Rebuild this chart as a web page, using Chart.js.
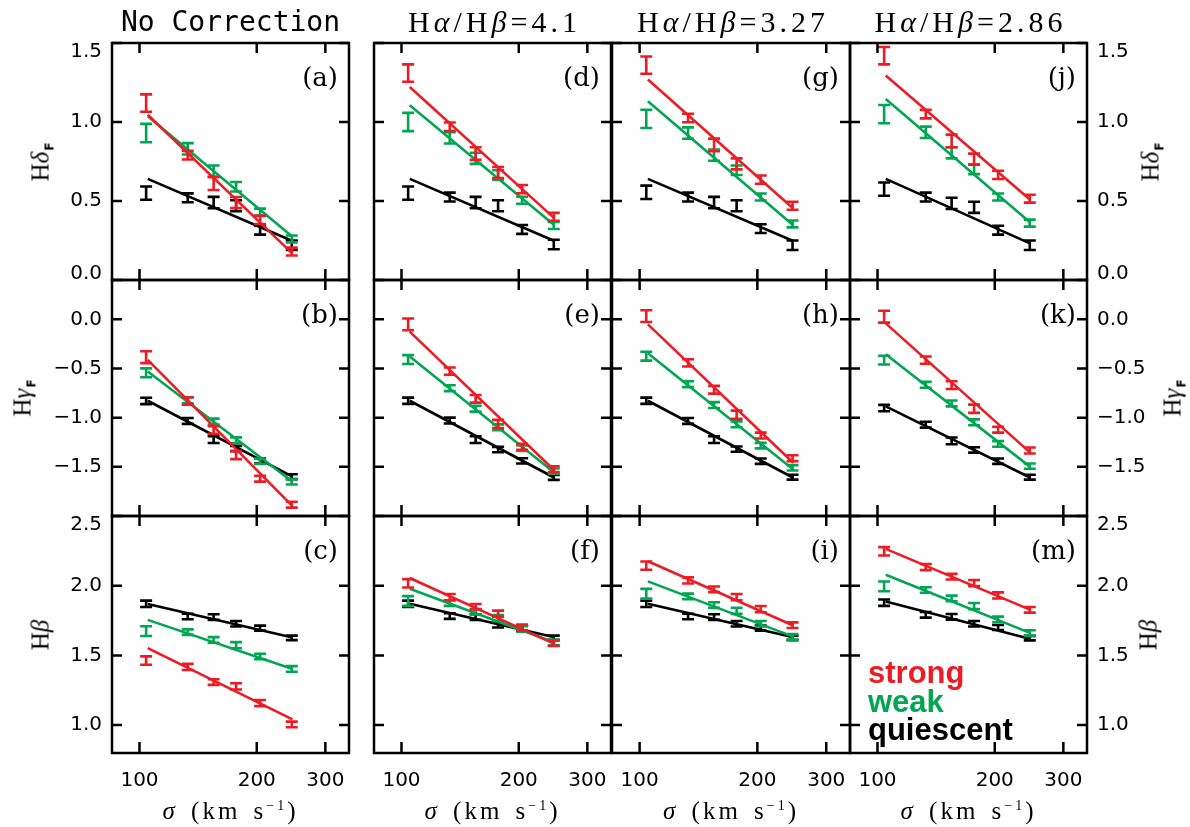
<!DOCTYPE html>
<html><head><meta charset="utf-8">
<script src="https://cdn.jsdelivr.net/npm/chart.js@4.4.1/dist/chart.umd.min.js"></script>
<style>
html,body{margin:0;padding:0;background:#fff;}
#fig{position:relative;width:1190px;height:827px;overflow:hidden;background:#fff;}
#fig canvas{position:absolute;z-index:1;}
.t{position:absolute;white-space:nowrap;color:#000;line-height:1;z-index:2;}
</style></head><body><div id="fig"></div>
<script>
// ---------------- data ----------------
const sigma = [104, 133, 155, 177, 204, 246];          // km/s, bin centres
const fitSigma = [105, 247];                            // extent of fitted lines
const xTickValues = [100, 200, 300];
const hdTicks = [0.0, 0.5, 1.0, 1.5];
const hgTicks = [-1.5, -1.0, -0.5, 0.0];
const hbTicks = [1.0, 1.5, 2.0, 2.5];
const panelLetters = ['a','b','c','d','e','f','g','h','i','j','k','m'];
const legendLabels = ['strong', 'weak', 'quiescent'];

// H delta_F
const hd_none_strong    = [1.12, 0.79, 0.61, 0.49, 0.38, 0.18];
const hd_none_weak      = [0.93, 0.83, 0.69, 0.59, 0.43, 0.26];
const hd_none_quiescent = [0.55, 0.52, 0.49, 0.47, 0.315, 0.22];
const hd_41_strong      = [1.31, 0.97, 0.80, 0.68, 0.575, 0.40];
const hd_41_weak        = [1.00, 0.90, 0.77, 0.665, 0.505, 0.345];
const hd_41_quiescent   = [0.55, 0.525, 0.49, 0.47, 0.32, 0.225];
const hd_327_strong     = [1.36, 1.025, 0.855, 0.735, 0.635, 0.47];
const hd_327_weak       = [1.02, 0.93, 0.79, 0.695, 0.525, 0.355];
const hd_327_quiescent  = [0.555, 0.525, 0.49, 0.47, 0.325, 0.22];
const hd_286_strong     = [1.42, 1.05, 0.88, 0.765, 0.665, 0.515];
const hd_286_weak       = [1.05, 0.935, 0.805, 0.70, 0.525, 0.36];
const hd_286_quiescent  = [0.575, 0.525, 0.485, 0.46, 0.315, 0.22];
const hdErr_strong      = [0.055, 0.027, 0.04, 0.035, 0.026, 0.025];
const hdErr_weak        = [0.058, 0.036, 0.035, 0.03, 0.022, 0.022];
const hdErr_quiescent   = [0.042, 0.028, 0.036, 0.035, 0.028, 0.03];
const hdFit_none_strong = [1.046, 0.167], hdFit_none_weak = [1.036, 0.273], hdFit_none_quiescent = [0.64, 0.247];
const hdFit_41_strong   = [1.222, 0.39],  hdFit_41_weak   = [1.106, 0.347], hdFit_41_quiescent   = [0.64, 0.247];
const hdFit_327_strong  = [1.269, 0.453], hdFit_327_weak  = [1.131, 0.347], hdFit_327_quiescent  = [0.64, 0.247];
const hdFit_286_strong  = [1.294, 0.506], hdFit_286_weak  = [1.146, 0.362], hdFit_286_quiescent  = [0.64, 0.23];

// H gamma_F
const hg_none_strong    = [-0.385, -0.83, -1.125, -1.38, -1.62, -1.885];
const hg_none_weak      = [-0.544, -0.825, -1.04, -1.23, -1.443, -1.652];
const hg_none_quiescent = [-0.83, -1.033, -1.223, -1.314, -1.44, -1.60];
const hg_41_strong      = [-0.051, -0.527, -0.808, -1.064, -1.297, -1.524];
const hg_41_weak        = [-0.409, -0.70, -0.909, -1.098, -1.31, -1.544];
const hg_41_quiescent   = [-0.828, -1.03, -1.223, -1.324, -1.439, -1.608];
const hg_327_strong     = [0.033, -0.443, -0.716, -0.97, -1.182, -1.412];
const hg_327_weak       = [-0.375, -0.659, -0.872, -1.068, -1.284, -1.51];
const hg_327_quiescent  = [-0.828, -1.033, -1.223, -1.32, -1.443, -1.605];
const hg_286_strong     = [0.027, -0.415, -0.669, -0.909, -1.122, -1.334];
const hg_286_weak       = [-0.415, -0.666, -0.855, -1.047, -1.267, -1.493];
const hg_286_quiescent  = [-0.902, -1.071, -1.236, -1.328, -1.443, -1.605];
const hgErr_strong      = [0.06, 0.037, 0.039, 0.042, 0.03, 0.03];
const hgErr_weak        = [0.045, 0.03, 0.03, 0.03, 0.028, 0.027];
const hgErr_quiescent   = [0.032, 0.03, 0.034, 0.027, 0.027, 0.025];
const hgFit_none_strong = [-0.412, -1.899], hgFit_none_weak = [-0.53, -1.652], hgFit_none_quiescent = [-0.828, -1.60];
const hgFit_41_strong   = [-0.125, -1.537], hgFit_41_weak   = [-0.378, -1.56],  hgFit_41_quiescent   = [-0.828, -1.611];
const hgFit_327_strong  = [-0.051, -1.459], hgFit_327_weak  = [-0.345, -1.527], hgFit_327_quiescent  = [-0.828, -1.611];
const hgFit_286_strong  = [-0.041, -1.358], hgFit_286_weak  = [-0.355, -1.503], hgFit_286_quiescent  = [-0.885, -1.611];

// H beta
const hb_none_strong    = [1.463, 1.417, 1.309, 1.278, 1.158, 1.005];
const hb_none_weak      = [1.674, 1.667, 1.611, 1.573, 1.492, 1.403];
const hb_none_quiescent = [1.87, 1.779, 1.775, 1.727, 1.696, 1.626];
const hb_41_strong      = [2.017, 1.918, 1.849, 1.799, 1.70, 1.588];
const hb_41_weak        = [1.89, 1.875, 1.813, 1.767, 1.69, 1.593];
const hb_41_quiescent   = [1.87, 1.782, 1.775, 1.72, 1.696, 1.626];
const hb_327_strong     = [2.144, 2.038, 1.974, 1.918, 1.832, 1.717];
const hb_327_weak       = [1.942, 1.923, 1.861, 1.82, 1.727, 1.633];
const hb_327_quiescent  = [1.87, 1.779, 1.775, 1.727, 1.696, 1.626];
const hb_286_strong     = [2.247, 2.134, 2.065, 2.019, 1.93, 1.827];
const hb_286_weak       = [1.995, 1.969, 1.909, 1.854, 1.758, 1.66];
const hb_286_quiescent  = [1.878, 1.791, 1.777, 1.727, 1.70, 1.624];
const hbErr_strong      = [0.03, 0.022, 0.02, 0.022, 0.022, 0.02];
const hbErr_weak        = [0.035, 0.02, 0.02, 0.022, 0.02, 0.02];
const hbErr_quiescent   = [0.023, 0.02, 0.02, 0.02, 0.018, 0.016];
const hbFit_none_strong = [1.552, 1.041], hbFit_none_weak = [1.755, 1.403], hbFit_none_quiescent = [1.868, 1.628];
const hbFit_41_strong   = [2.055, 1.583], hbFit_41_weak   = [1.978, 1.592], hbFit_41_quiescent   = [1.87, 1.631];
const hbFit_327_strong  = [2.175, 1.715], hbFit_327_weak  = [2.031, 1.635], hbFit_327_quiescent  = [1.87, 1.631];
const hbFit_286_strong  = [2.264, 1.827], hbFit_286_weak  = [2.079, 1.66],  hbFit_286_quiescent  = [1.887, 1.617];

// ---------------- styling / layout ----------------
const COLORS = {strong: '#ec1c24', weak: '#00a651', quiescent: '#000000'};
const plotLefts = [112, 374, 612, 850];
const plotWidths = [237, 237, 238, 237];
const plotTops = [43, 280, 516];
const plotHeights = [237, 236, 237];
const M = 24;

// labelNudge: pixel shift (down = +) of edge tick labels, as in the original figure
const rowCfg = [
  {min: 0.0, max: 1.5, ticks: hdTicks, labelNudge: [-6, 0, 0, 9], err: [hdErr_strong, hdErr_weak, hdErr_quiescent]},
  {min: -2.0, max: 0.4, ticks: hgTicks, labelNudge: [0, 0, 0, 0], err: [hgErr_strong, hgErr_weak, hgErr_quiescent]},
  {min: 0.8, max: 2.5, ticks: hbTicks, labelNudge: [0, 0, 0, 9], err: [hbErr_strong, hbErr_weak, hbErr_quiescent]}
];

const panels = [
  {col:0,row:0, vals:[hd_none_strong, hd_none_weak, hd_none_quiescent], fits:[hdFit_none_strong, hdFit_none_weak, hdFit_none_quiescent]},
  {col:0,row:1, vals:[hg_none_strong, hg_none_weak, hg_none_quiescent], fits:[hgFit_none_strong, hgFit_none_weak, hgFit_none_quiescent]},
  {col:0,row:2, vals:[hb_none_strong, hb_none_weak, hb_none_quiescent], fits:[hbFit_none_strong, hbFit_none_weak, hbFit_none_quiescent]},
  {col:1,row:0, vals:[hd_41_strong, hd_41_weak, hd_41_quiescent], fits:[hdFit_41_strong, hdFit_41_weak, hdFit_41_quiescent]},
  {col:1,row:1, vals:[hg_41_strong, hg_41_weak, hg_41_quiescent], fits:[hgFit_41_strong, hgFit_41_weak, hgFit_41_quiescent]},
  {col:1,row:2, vals:[hb_41_strong, hb_41_weak, hb_41_quiescent], fits:[hbFit_41_strong, hbFit_41_weak, hbFit_41_quiescent]},
  {col:2,row:0, vals:[hd_327_strong, hd_327_weak, hd_327_quiescent], fits:[hdFit_327_strong, hdFit_327_weak, hdFit_327_quiescent]},
  {col:2,row:1, vals:[hg_327_strong, hg_327_weak, hg_327_quiescent], fits:[hgFit_327_strong, hgFit_327_weak, hgFit_327_quiescent]},
  {col:2,row:2, vals:[hb_327_strong, hb_327_weak, hb_327_quiescent], fits:[hbFit_327_strong, hbFit_327_weak, hbFit_327_quiescent]},
  {col:3,row:0, vals:[hd_286_strong, hd_286_weak, hd_286_quiescent], fits:[hdFit_286_strong, hdFit_286_weak, hdFit_286_quiescent]},
  {col:3,row:1, vals:[hg_286_strong, hg_286_weak, hg_286_quiescent], fits:[hgFit_286_strong, hgFit_286_weak, hgFit_286_quiescent]},
  {col:3,row:2, vals:[hb_286_strong, hb_286_weak, hb_286_quiescent], fits:[hbFit_286_strong, hbFit_286_weak, hbFit_286_quiescent]}
];

// ---------------- plugins ----------------
const errorBarPlugin = {
  id: 'errorBars',
  afterDatasetDraw(chart, args) {
    const ds = chart.data.datasets[args.index];
    if (!ds.errors) return;
    const xs = chart.scales.x, ys = chart.scales.y, ctx = chart.ctx;
    ctx.save();
    ctx.strokeStyle = ds.borderColor;
    ctx.lineWidth = 2.6;
    ctx.lineCap = 'butt';
    ds.data.forEach((p, i) => {
      const px = xs.getPixelForValue(p.x);
      const y1 = ys.getPixelForValue(p.y - ds.errors[i]);
      const y2 = ys.getPixelForValue(p.y + ds.errors[i]);
      ctx.beginPath();
      ctx.moveTo(px, y1); ctx.lineTo(px, y2);
      ctx.moveTo(px - 6, y1); ctx.lineTo(px + 6, y1);
      ctx.moveTo(px - 6, y2); ctx.lineTo(px + 6, y2);
      ctx.stroke();
    });
    ctx.restore();
  }
};
const framePlugin = {
  id: 'frame',
  afterDraw(chart, args, opts) {
    const {ctx, chartArea: a} = chart;
    const xs = chart.scales.x, ys = chart.scales.y;
    ctx.save();
    ctx.strokeStyle = '#000';
    ctx.lineWidth = 2.5;
    ctx.strokeRect(a.left, a.top, a.right - a.left, a.bottom - a.top);
    ctx.beginPath();
    (opts.xTicks || []).forEach(v => {
      const px = xs.getPixelForValue(v);
      ctx.moveTo(px, a.bottom); ctx.lineTo(px, a.bottom - 11);
      ctx.moveTo(px, a.top); ctx.lineTo(px, a.top + 10);
    });
    (opts.yTicks || []).forEach(v => {
      const py = ys.getPixelForValue(v);
      ctx.moveTo(a.left, py); ctx.lineTo(a.left + 10, py);
      ctx.moveTo(a.right, py); ctx.lineTo(a.right - 10, py);
    });
    ctx.stroke();
    ctx.restore();
  }
};

// ---------------- build ----------------
const fig = document.getElementById('fig');
Chart.defaults.font.family = 'DejaVu Sans';
Chart.defaults.color = '#000';

function fmtY(v) { return v.toFixed(1).replace('-', '\u2212'); }

function addText(html, x, y, css, tf) {
  const d = document.createElement('div');
  d.className = 't';
  d.innerHTML = html;
  d.style.left = x + 'px';
  d.style.top = y + 'px';
  Object.assign(d.style, css);
  d.style.transform = tf;
  fig.appendChild(d);
  return d;
}

panels.forEach((p, idx) => {
  const c = p.col, r = p.row, rc = rowCfg[r];
  const padL = c === 0 ? 112 : M, padR = c === 3 ? 100 : M;
  const padT = M, padB = r === 2 ? 48 : M;
  const w = padL + plotWidths[c] + padR, h = padT + plotHeights[r] + padB;
  const cv = document.createElement('canvas');
  cv.width = w; cv.height = h;
  cv.style.width = w + 'px'; cv.style.height = h + 'px';
  cv.style.left = (plotLefts[c] - padL) + 'px';
  cv.style.top = (plotTops[r] - padT) + 'px';
  fig.appendChild(cv);

  const datasets = [];
  legendLabels.forEach((name, si) => {
    datasets.push({
      label: name + ' fit', showLine: true, borderColor: COLORS[name], borderWidth: 2.6,
      pointRadius: 0, pointHoverRadius: 0, fill: false,
      data: fitSigma.map((x, k) => ({x, y: p.fits[si][k]}))
    });
    datasets.push({
      label: name, showLine: false, borderColor: COLORS[name], backgroundColor: COLORS[name],
      pointRadius: 0, pointHoverRadius: 0,
      errors: rc.err[si],
      data: sigma.map((x, k) => ({x, y: p.vals[si][k]}))
    });
  });

  const valPerPx = (rc.max - rc.min) / plotHeights[r];

  new Chart(cv, {
    type: 'scatter',
    data: {datasets},
    plugins: [errorBarPlugin, framePlugin],
    options: {
      responsive: false, devicePixelRatio: 1, animation: false, events: [],
      layout: {padding: {left: c === 0 ? 0 : M, right: c === 3 ? 0 : M, top: M, bottom: r === 2 ? 0 : M}},
      plugins: {legend: {display: false}, tooltip: {enabled: false},
                frame: {xTicks: xTickValues, yTicks: rc.ticks}},
      scales: {
        x: {
          type: 'logarithmic', min: 85, max: 345, position: 'bottom', display: r === 2,
          afterBuildTicks: s => { s.ticks = xTickValues.map(v => ({value: v})); },
          afterFit: s => { if (r === 2) s.height = 48; },
          ticks: {callback: v => String(v), font: {family: 'DejaVu Sans', size: 20}, color: '#000',
                  padding: 16, maxRotation: 0, autoSkip: false},
          grid: {display: false, drawTicks: false}, border: {display: false}
        },
        y: {
          type: 'linear', min: rc.min, max: rc.max, position: c === 3 ? 'right' : 'left',
          display: c === 0 || c === 3,
          afterBuildTicks: s => { s.ticks = rc.ticks.map((v, i) => ({value: v - rc.labelNudge[i] * valPerPx})); },
          afterFit: s => { if (c === 0) s.width = 112; else if (c === 3) s.width = 100; },
          ticks: {callback: (v, i) => fmtY(rc.ticks[i]), font: {family: 'DejaVu Sans', size: 20}, color: '#000', padding: 10},
          grid: {display: false, drawTicks: false}, border: {display: false}
        }
      }
    }
  });

  // panel letter
  addText('(' + panelLetters[idx] + ')', plotLefts[c] + plotWidths[c] - 11, plotTops[r] + 34,
          {fontFamily: 'DejaVu Serif', fontSize: '26px'}, 'translate(-100%,-50%)');
});

// column titles
const colCenters = plotLefts.map((l, i) => l + plotWidths[i] / 2);
addText('No Correction', colCenters[0], 22, {fontFamily: 'DejaVu Sans Mono', fontSize: '28px'}, 'translate(-50%,-50%)');
['4.1', '3.27', '2.86'].forEach((v, i) => {
  addText('H<i>&alpha;</i>/H<i>&beta;</i>=' + v, colCenters[i + 1] + 2, 22,
          {fontFamily: 'Liberation Serif', fontSize: '30px', letterSpacing: '4px'}, 'translate(-50%,-50%)');
});

// y-axis titles
const subF = '<span style="font-family:\'DejaVu Sans\';font-weight:bold;font-size:12px;position:relative;top:5px;margin-left:1px">F</span>';
const yTitles = ['H<i>&delta;</i>' + subF, 'H<i>&gamma;</i>' + subF, 'H<i>&beta;</i>'];
const yTitleLeftX = [40, 22, 40];
const yTitleRightX = [1150, 1172, 1148];
yTitles.forEach((t, r) => {
  const cy = plotTops[r] + plotHeights[r] / 2;
  const css = {fontFamily: 'Liberation Serif', fontSize: '25px'};
  addText(t, yTitleLeftX[r], cy, css, 'translate(-50%,-50%) rotate(-90deg)');
  addText(t, yTitleRightX[r], cy, css, 'translate(-50%,-50%) rotate(-90deg)');
});

// x-axis titles
colCenters.forEach(cx => {
  addText('<i>&sigma;</i> (km s<sup style="font-size:14px;vertical-align:9px;line-height:0">&minus;1</sup>)', cx, 810,
          {fontFamily: 'Liberation Serif', fontSize: '25px', letterSpacing: '3px', wordSpacing: '4px'}, 'translate(-50%,-50%)');
});

// legend text in panel (m)
const legendCenters = [672, 701, 729];
legendLabels.forEach((name, i) => {
  addText(name, 868, legendCenters[i],
          {fontFamily: 'Liberation Sans', fontWeight: 'bold', fontSize: '31px', color: COLORS[name]}, 'translate(0,-50%)');
});
</script></body></html>
